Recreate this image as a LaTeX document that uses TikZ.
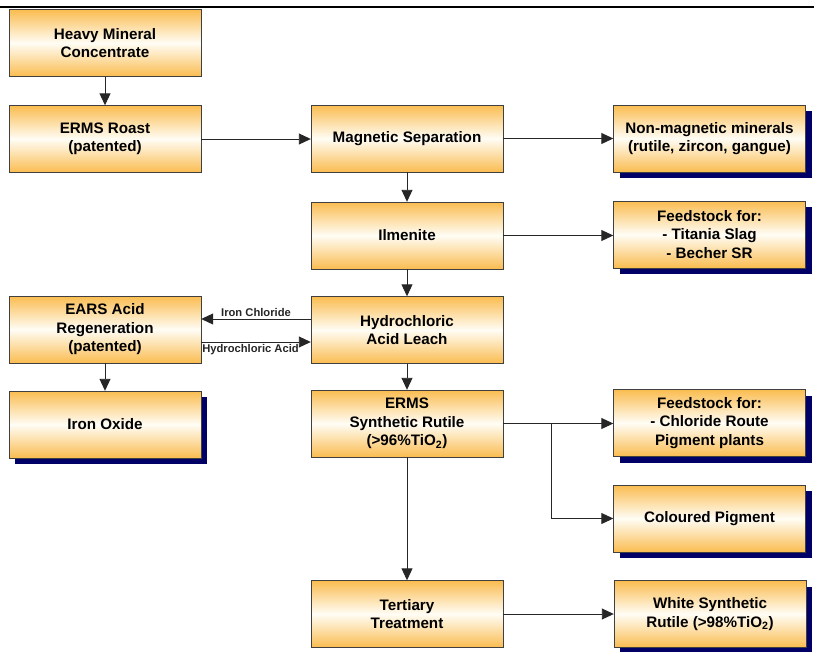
\documentclass[tikz,border=0pt]{standalone}
\usepackage{fontspec}
\setmainfont{Liberation Sans}
\usetikzlibrary{arrows.meta,shadows}
\definecolor{boxorange}{RGB}{250,188,80}
\definecolor{boxlight}{RGB}{255,253,245}
\definecolor{shadownavy}{RGB}{0,0,102}
\tikzstyle{stage} = [draw=black!75, top color=boxorange, bottom color=boxorange, middle color=boxlight, minimum width=192pt, minimum height=67pt, inner sep=0pt, align=center, font=\fontsize{15.2}{18.5}\selectfont\bfseries]
\tikzstyle{product} = [stage, drop shadow={shadow xshift=6pt, shadow yshift=-6pt, fill=shadownavy, opacity=1}]
\tikzstyle{arrow} = [black!85, line width=0.9pt, -{Triangle[length=12pt,width=11pt]}]
\tikzstyle{flowlabel} = [font=\fontsize{11.2}{13}\selectfont\bfseries, inner sep=2pt]

\begin{document}
\begin{tikzpicture}[x=1pt, y=-1pt]
\useasboundingbox (0,0) rectangle (814,651);
% Rule at the top
\draw[line width=2.5pt] (0,7) -- (814,7);

% Left column
\node[stage] (hmc) at (105,43) {Heavy Mineral\\Concentrate};
\node[stage] (roast) at (105,139) {ERMS Roast\\(patented)};
\node[stage] (ears) at (105,329.5) {EARS Acid\\Regeneration\\(patented)};
\node[product] (oxide) at (105,424.5) {Iron Oxide};

% Middle column
\node[stage] (magsep) at (407,138.5) {Magnetic Separation};
\node[stage] (ilm) at (407,235.5) {Ilmenite};
\node[stage] (hcl) at (407,330) {Hydrochloric\\Acid Leach};
\node[stage] (ermssr) at (407,423.5) {ERMS\\Synthetic Rutile\\(>96\%TiO\textsubscript{2})};
\node[stage] (tert) at (407,614) {Tertiary\\Treatment};

% Right column
\node[product] (nonmag) at (709.5,138.5) {Non-magnetic minerals\\(rutile, zircon, gangue)};
\node[product] (feedA) at (709.5,234.5) {Feedstock for:\\- Titania Slag\\- Becher SR};
\node[product] (feedB) at (709.5,423) {Feedstock for:\\- Chloride Route\\Pigment plants};
\node[product] (colpig) at (709.5,518.5) {Coloured Pigment};
\node[product] (white) at (710,614) {White Synthetic\\Rutile (>98\%TiO\textsubscript{2})};

% Flows
\draw[arrow] (hmc) -- (roast);
\draw[arrow] (roast.east) -- (roast.east -| magsep.west);
\draw[arrow] (magsep) -- (nonmag);
\draw[arrow] (magsep) -- (ilm);
\draw[arrow] (ilm.east) -- (ilm.east -| feedA.west);
\draw[arrow] (ilm) -- (hcl);
\draw[arrow] (hcl.west |- 0,319) -- node[flowlabel, above] {Iron Chloride} (ears.east |- 0,319);
\draw[arrow] (ears.east |- 0,342) -- node[flowlabel, below, pos=0.45] {Hydrochloric Acid} (hcl.west |- 0,342);
\draw[arrow] (ears) -- (oxide);
\draw[arrow] (hcl) -- (ermssr);
\draw[arrow] (ermssr.east) -- (ermssr.east -| feedB.west);
\coordinate (split) at (551,423.5);
\draw[arrow] (split) |- (colpig.west);
\draw[arrow] (ermssr) -- (tert);
\draw[arrow] (tert) -- (white);
\end{tikzpicture}
\end{document}
